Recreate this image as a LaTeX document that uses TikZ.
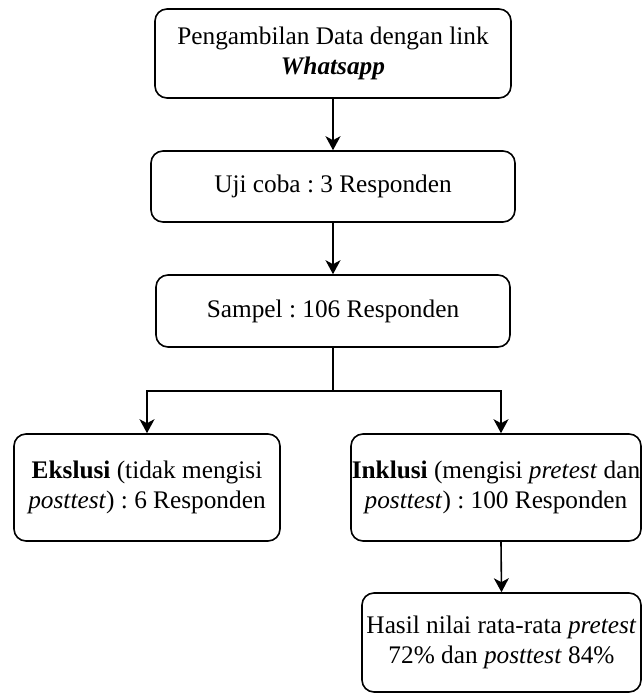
\documentclass[tikz,border=0pt]{standalone}
\usepackage{fontspec}
\setmainfont{Liberation Serif}
\usetikzlibrary{arrows.meta}
\frenchspacing
\begin{document}
\begin{tikzpicture}[x=1pt,y=1pt,
  box/.style={draw=black,line width=1.6pt,rounded corners=12pt,align=center,
    inner sep=0pt,font=\fontsize{25.3}{30}\selectfont},
  conn/.style={line width=1.6pt,draw=black},
  arr/.style={conn,-{Stealth[length=14pt,width=15pt,inset=4pt]}}]
\useasboundingbox (0,0) rectangle (642,-697);
\node[box,minimum width=356pt,minimum height=89pt] (b1) at (333,-53.5)
  {Pengambilan Data dengan link\\\textbf{\textit{Whatsapp}}};
\node[box,minimum width=364pt,minimum height=71pt] (b2) at (333,-186.5)
  {Uji coba : 3 Responden};
\node[box,minimum width=354pt,minimum height=72pt] (b3) at (333,-311)
  {Sampel : 106 Responden};
\node[box,minimum width=266pt,minimum height=107pt] (b4) at (147,-487.5)
  {\textbf{Ekslusi} (tidak mengisi\\\textit{posttest}) : 6 Responden};
\node[box,minimum width=290pt,minimum height=107pt] (b5) at (496,-487.5)
  {\textbf{Inklusi} (mengisi \textit{pretest} dan\\\textit{posttest}) : 100 Responden};
\node[box,minimum width=279pt,minimum height=99pt] (b6) at (501.5,-642.5)
  {Hasil nilai rata-rata \textit{pretest}\\72\% dan \textit{posttest} 84\%};
\coordinate (j) at (333,-391);
\coordinate (jl) at (147,-391);
\coordinate (jr) at (501,-391);
\draw[arr] (b1.south) -- (b2.north);
\draw[arr] (b2.south) -- (b3.north);
\draw[conn] (b3.south) -- (j);
\draw[arr] (j) -- (jl) -- (b4.north);
\draw[arr] (j) -- (jr) -- (jr |- b5.north);
\draw[arr] (jr |- b5.south) -- (b6.north);
\end{tikzpicture}
\end{document}
